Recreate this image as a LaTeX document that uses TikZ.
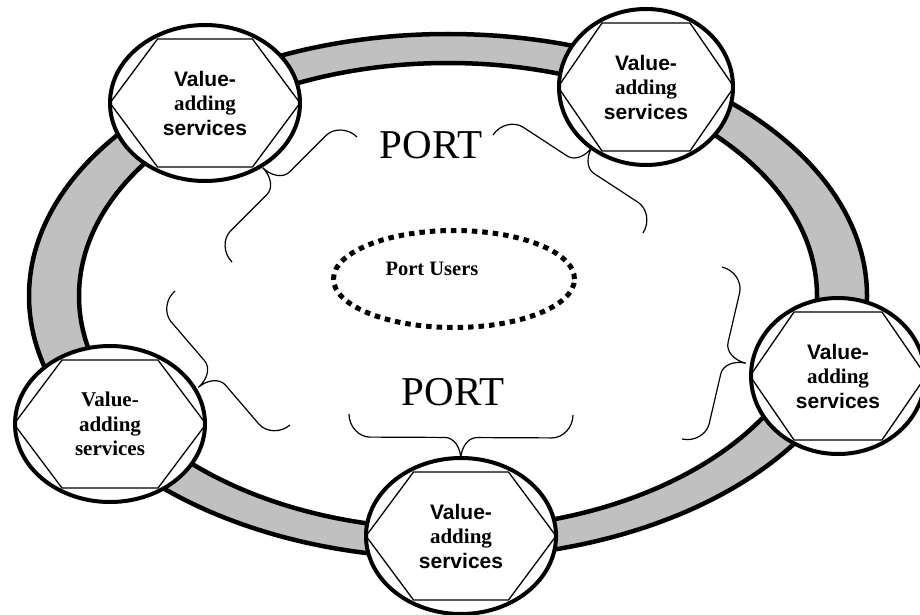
\documentclass[tikz,border=0pt]{standalone}
\usepackage{fontspec}
\setmainfont{Liberation Serif}
\setsansfont{Liberation Sans}
\usetikzlibrary{shapes.geometric,decorations.pathreplacing}
\definecolor{ringgray}{RGB}{192,192,192}
\pgfdeclaredecoration{curlybr}{final}{%
  \state{final}{%
    \pgfpathmoveto{\pgfpointorigin}%
    \pgfpathcurveto{\pgfpoint{0pt}{12.5pt}}{\pgfpoint{10pt}{23pt}}{\pgfpoint{21pt}{23pt}}%
    \pgfpathlineto{\pgfpoint{0.5*\pgfdecoratedpathlength-16pt}{23pt}}%
    \pgfpathcurveto{\pgfpoint{0.5*\pgfdecoratedpathlength-7pt}{23pt}}{\pgfpoint{0.5*\pgfdecoratedpathlength}{33pt}}{\pgfpoint{0.5*\pgfdecoratedpathlength}{45pt}}%
    \pgfpathcurveto{\pgfpoint{0.5*\pgfdecoratedpathlength}{33pt}}{\pgfpoint{0.5*\pgfdecoratedpathlength+7pt}{23pt}}{\pgfpoint{0.5*\pgfdecoratedpathlength+16pt}{23pt}}%
    \pgfpathlineto{\pgfpoint{\pgfdecoratedpathlength-21pt}{23pt}}%
    \pgfpathcurveto{\pgfpoint{\pgfdecoratedpathlength-10pt}{23pt}}{\pgfpoint{\pgfdecoratedpathlength}{12.5pt}}{\pgfpoint{\pgfdecoratedpathlength}{0pt}}%
  }%
}
\newcommand{\vastext}{{\sffamily\bfseries Value-}\\{\bfseries adding}\\{\sffamily\bfseries services}}
\newcommand{\vasserif}{{\bfseries Value-}\\{\bfseries adding}\\{\bfseries services}}
\newcommand{\hexa}[2]{\draw[hexline, shift={(#1.center)}] (-#2,0) -- (-#2/2,-64) -- (#2/2,-64) -- (#2,0) -- (#2/2,64) -- (-#2/2,64) -- cycle;}
\tikzset{
  vas/.style={ellipse, draw, line width=4pt, fill=white, inner sep=0pt, align=center,
    font=\fontsize{21}{24.5}\selectfont, minimum height=156pt},
  widebox/.style={minimum width=190pt},
  narrowbox/.style={minimum width=174pt},
  hexline/.style={line width=1.3pt},
  brc/.style={decorate, decoration={curlybr}, line width=1.2pt},
  ringline/.style={line width=4.5pt},
  porttxt/.style={anchor=base, inner sep=0pt, font=\fontsize{41}{49}\selectfont},
  userring/.style={ellipse, draw, line width=5pt, dash pattern=on 5.5pt off 5pt,
    minimum width=241pt, minimum height=97pt, inner sep=0pt},
  usertxt/.style={anchor=base, inner sep=0pt, font=\fontsize{20.5}{24}\selectfont\bfseries}
}
\begin{document}
\begin{tikzpicture}[x=1pt,y=-1pt]
\useasboundingbox (0,0) rectangle (920,615);
\clip (0,0) rectangle (920,615);
\fill[white] (0,0) rectangle (920,615);
% ring
\fill[ringgray, even odd rule] (448,296) ellipse [x radius=419pt, y radius=262pt]
  (448,296) ellipse [x radius=369pt, y radius=233pt];
\draw[ringline] (448,296) ellipse [x radius=419pt, y radius=262pt];
\draw[ringline] (448,296) ellipse [x radius=369pt, y radius=233pt];
% port users
\node[userring] (users) at (454,279) {};
\node[usertxt] (userslabel) at (432,275) {Port Users};
% PORT labels
\node[porttxt] (port1) at (431,158) {PORT};
\node[porttxt] (port2) at (453,405) {PORT};
% braces
\coordinate (b1s) at (232,262); \coordinate (b1e) at (357,137);
\coordinate (b2s) at (493,135); \coordinate (b2e) at (643,233);
\coordinate (b3s) at (722,267); \coordinate (b3e) at (682,439);
\coordinate (b4s) at (573,415); \coordinate (b4e) at (349,414);
\coordinate (b5s) at (290,425); \coordinate (b5e) at (175,291);
\draw[brc] (b1s) -- (b1e);
\draw[brc] (b2s) -- (b2e);
\draw[brc] (b3s) -- (b3e);
\draw[brc] (b4s) -- (b4e);
\draw[brc] (b5s) -- (b5e);
% value-adding service nodes
\node[vas, widebox] (tl) at (205,103) {\vastext};
\node[vas, narrowbox] (tr) at (646,87) {\vastext};
\node[vas, narrowbox] (rt) at (838,376) {\vastext};
\node[vas, widebox] (bt) at (461,536) {\vastext};
\node[vas, widebox] (lf) at (110,424) {\vasserif};
\hexa{tl}{95}
\hexa{tr}{88}
\hexa{rt}{88}
\hexa{bt}{95}
\hexa{lf}{96}
\end{tikzpicture}
\end{document}
